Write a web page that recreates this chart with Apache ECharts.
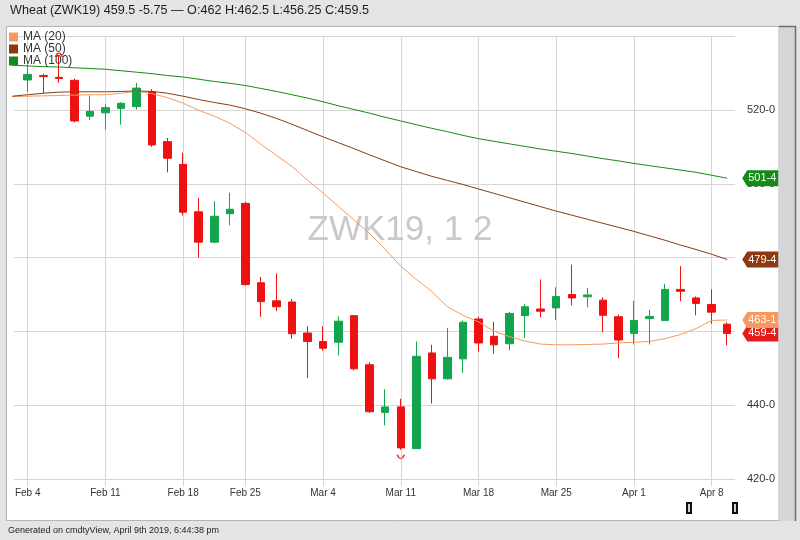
<!DOCTYPE html>
<html>
<head>
<meta charset="utf-8">
<script src="https://cdn.jsdelivr.net/npm/echarts@6/dist/echarts.min.js"></script>
<style>
  html, body { margin: 0; padding: 0; background: #e2e4e6; }
  #chart { width: 800px; height: 540px; }
</style>
</head>
<body>
<div id="chart"></div>
<script>
// Trading sessions shown on the axis (Feb 1 only carries the moving averages into view)
const dates = [
  'Feb 1', 'Feb 4', 'Feb 5', 'Feb 6', 'Feb 7', 'Feb 8',
  'Feb 11', 'Feb 12', 'Feb 13', 'Feb 14', 'Feb 15',
  'Feb 19', 'Feb 20', 'Feb 21', 'Feb 22',
  'Feb 25', 'Feb 26', 'Feb 27', 'Feb 28', 'Mar 1',
  'Mar 4', 'Mar 5', 'Mar 6', 'Mar 7', 'Mar 8',
  'Mar 11', 'Mar 12', 'Mar 13', 'Mar 14', 'Mar 15',
  'Mar 18', 'Mar 19', 'Mar 20', 'Mar 21', 'Mar 22',
  'Mar 25', 'Mar 26', 'Mar 27', 'Mar 28', 'Mar 29',
  'Apr 1', 'Apr 2', 'Apr 3', 'Apr 4', 'Apr 5',
  'Apr 8', 'Apr 9'
];

// Daily OHLC for ZWK19, Feb 4 .. Apr 9 (cents per bushel)
const opens = [
  528.1, 529.3, 528.8, 528.0, 518.3,
  519.2, 520.4, 520.9, 524.9, 511.4,
  505.2, 492.4, 484.2, 491.9,
  494.7, 473.2, 468.3, 468.0, 459.6,
  457.3, 457.1, 464.3, 451.0, 438.1,
  439.6, 428.3, 454.2, 447.2, 452.6,
  463.4, 458.7, 456.7, 464.3, 466.1,
  466.4, 470.0, 469.4, 468.5, 464.0,
  459.5, 463.5, 463.0, 471.4, 469.1,
  467.3, 462
];
const highs = [
  532.3, 529.8, 534.6, 528.5, 523.9,
  521.5, 522.1, 527.3, 525.6, 512.4,
  508.4, 496.2, 495.3, 497.6,
  495.1, 474.8, 475.7, 468.8, 461.4,
  461.4, 464.1, 464.4, 451.7, 444.4,
  441.8, 457.3, 456.4, 461.0, 463.0,
  464.0, 462.6, 465.3, 467.5, 474.1,
  472.0, 478.1, 471.8, 469.3, 464.6,
  468.3, 465.9, 472.9, 477.7, 469.5,
  471.4, 462.5
];
const lows = [
  524.8, 524.5, 527.3, 516.6, 517.2,
  514.7, 516.0, 520.1, 510.0, 503.1,
  491.4, 480.0, 484.0, 488.8,
  472.5, 464.0, 465.5, 458.0, 447.4,
  454.8, 453.5, 449.5, 437.9, 434.6,
  428.0, 428.25, 440.5, 447.0, 448.8,
  454.6, 454.0, 454.9, 458.3, 463.9,
  463.1, 467.1, 466.6, 459.8, 452.8,
  456.5, 456.5, 462.9, 468.2, 464.4,
  462.1, 456.25
];
const closes = [
  529.6, 529.0, 528.5, 517.0, 519.6,
  520.6, 521.8, 525.9, 510.5, 506.9,
  492.3, 484.2, 491.2, 493.1,
  472.7, 468.1, 466.7, 459.4, 457.3,
  455.5, 462.8, 449.9, 438.3, 439.6,
  428.5, 453.3, 447.2, 453.0, 462.5,
  456.9, 456.4, 464.9, 466.7, 465.5,
  469.5, 469.1, 469.9, 464.4, 457.7,
  463.0, 464.1, 471.4, 470.9, 467.6,
  465.25, 459.5
];

// Moving averages, one value per entry in dates
const ma20 = [
  523.6, 523.7, 523.8, 523.9, 524.0, 524.1, 524.1, 524.5, 525.1, 524.4,
  523.3, 521.8, 519.9, 518.3, 516.4, 513.9, 510.7, 507.7, 504.7, 501.0,
  497.5, 493.8, 490.2, 486.5, 482.2, 477.7, 474.1, 470.8, 466.7, 464.4,
  462.6, 460.1, 458.6, 457.4, 456.6, 456.4, 456.4, 456.5, 456.6, 456.9,
  457.1, 457.3, 458.1, 459.2, 460.8, 463.0, 463.125
];
const ma50 = [
  523.7, 524.1, 524.5, 524.8, 524.9, 524.9, 524.9, 525.0, 525.1, 525.0,
  524.5, 523.7, 522.8, 522.0, 521.3, 520.3, 519.1, 517.7, 516.1, 514.4,
  512.7, 511.1, 509.5, 507.8, 506.2, 504.6, 503.3, 502.0, 500.9, 499.8,
  498.6, 497.4, 496.2, 495.0, 493.8, 492.6, 491.5, 490.4, 489.3, 488.2,
  487.1, 485.9, 484.7, 483.4, 482.2, 480.9, 479.5
];
const ma100 = [
  532.1, 531.9, 531.7, 531.6, 531.4, 531.2, 531.0, 530.6, 530.2, 529.8,
  529.3, 528.9, 528.3, 527.7, 527.2, 526.6, 525.8, 525.0, 524.1, 523.2,
  522.2, 521.1, 520.1, 519.1, 518.0, 517.0, 516.0, 515.0, 514.1, 513.1,
  512.2, 511.5, 510.8, 510.1, 509.4, 508.8, 508.2, 507.5, 506.8, 506.2,
  505.5, 504.9, 504.3, 503.7, 503.1, 502.3, 501.5
];

// Weekly axis ticks: session that carries the tick, and the week it is named after
const tickSessions = ['Feb 4', 'Feb 11', 'Feb 19', 'Feb 25', 'Mar 4', 'Mar 11', 'Mar 18', 'Mar 25', 'Apr 1', 'Apr 8'];
const tickLabels   = ['Feb 4', 'Feb 11', 'Feb 18', 'Feb 25', 'Mar 4', 'Mar 11', 'Mar 18', 'Mar 25', 'Apr 1', 'Apr 8'];

const priceMin = 420, priceMax = 540, priceStep = 20;

const UP = '#13a54d', DOWN = '#ee1111';
const C20 = '#f6995f', C50 = '#8b3a10', C100 = '#168a16';
const FONT = '"Liberation Sans", Arial, Helvetica, sans-serif';

// Grain quotes in eighths: 463.125 -> "463-1"
function eighths(v) {
  const whole = Math.floor(v + 1e-9);
  return whole + '-' + Math.round((v - whole) * 8);
}

const candles = ['-'].concat(opens.map((o, i) => [o, closes[i], lows[i], highs[i]]));
const last = opens.length - 1;
const lastDate = dates[dates.length - 1];
const change = closes[last] - closes[last - 1];
const headline = 'Wheat (ZWK19) ' + closes[last] + ' ' + change.toFixed(2) +
  ' \u2014 O:' + opens[last] + ' H:' + highs[last] + ' L:' + lows[last] + ' C:' + closes[last];

const isTick = (idx, name) => tickSessions.indexOf(name) >= 0;

// Left-pointing price tag drawn at the right end of a series
const TAG = 'path://M0,8 L5,0 L36,0 L36,16 L5,16 Z';
function priceTag(value, color) {
  return {
    symbol: TAG,
    symbolSize: [36, 16],
    symbolKeepAspect: false,
    symbolOffset: [33, 0],
    silent: true,
    animation: false,
    label: {
      show: true, position: 'inside', color: '#fff', fontSize: 11,
      fontFamily: FONT, offset: [2, 0],
      formatter: (p) => eighths(p.value)
    },
    itemStyle: { color: color },
    data: [{ coord: [lastDate, value], value: value }]
  };
}

// Session extremes: a small cap over the highest high and a cup under the lowest low
const hiIdx = highs.indexOf(Math.max.apply(null, highs));
const loIdx = lows.indexOf(Math.min.apply(null, lows));

const candleTag = priceTag(closes[last], '#e51c1c');
candleTag.data = candleTag.data.concat([
  {
    coord: [dates[hiIdx + 1], highs[hiIdx]], value: highs[hiIdx],
    symbol: 'path://M0,5 Q5,-1 10,5', symbolSize: [7, 4], symbolOffset: [0, -1],
    itemStyle: { color: 'rgba(0,0,0,0)', borderColor: DOWN, borderWidth: 1.2 },
    label: { show: false }
  },
  {
    coord: [dates[loIdx + 1], lows[loIdx]], value: lows[loIdx],
    symbol: 'path://M0,0 Q5,6 10,0', symbolSize: [7, 4], symbolOffset: [0, 7],
    itemStyle: { color: 'rgba(0,0,0,0)', borderColor: DOWN, borderWidth: 1.2 },
    label: { show: false }
  }
]);

const chart = echarts.init(document.getElementById('chart'), null, { renderer: 'canvas' });

const option = {
  animation: false,
  backgroundColor: 'transparent',
  textStyle: { fontFamily: FONT },
  title: {
    text: headline, left: 10, top: 4, padding: 0,
    textStyle: { fontSize: 12.6, fontWeight: 'normal', color: '#1e1e1e', fontFamily: FONT }
  },
  legend: {
    orient: 'vertical', left: 9, top: 31, padding: 0,
    icon: 'rect', itemWidth: 9, itemHeight: 9, itemGap: 0,
    data: ['MA (20)', 'MA (50)', 'MA (100)'],
    textStyle: { fontSize: 12, color: '#333', lineHeight: 9, fontFamily: FONT },
    selectedMode: false
  },
  grid: [
    { left: 4.4, right: 65, top: 36, bottom: 60.7 },
    { left: 14, right: 65, top: 36, bottom: 60.7 }
  ],
  xAxis: [
    {
      type: 'category', gridIndex: 0, data: dates, boundaryGap: true,
      axisLine: { show: false },
      axisTick: { show: true, alignWithLabel: true, interval: isTick, length: 7, lineStyle: { color: '#d6d6d6' } },
      axisLabel: {
        interval: isTick, fontSize: 10, color: '#333', margin: 9, fontFamily: FONT,
        formatter: (name) => tickLabels[tickSessions.indexOf(name)]
      },
      splitLine: { show: true, alignWithLabel: true, interval: isTick, lineStyle: { color: '#d6d6d6', width: 1 } }
    },
    { type: 'value', gridIndex: 1, min: 0, max: 1, show: false }
  ],
  yAxis: [
    { type: 'value', gridIndex: 0, min: priceMin, max: priceMax, show: false },
    {
      type: 'value', gridIndex: 1, position: 'right',
      min: priceMin, max: priceMax, interval: priceStep,
      axisLine: { show: false }, axisTick: { show: false },
      splitLine: { show: true, lineStyle: { color: '#d6d6d6', width: 1 } },
      axisLabel: {
        margin: 12, fontSize: 11, color: '#333', fontFamily: FONT,
        formatter: (v) => (v >= priceMax ? '' : v + '-0')
      }
    }
  ],
  series: [
    {
      name: 'ZWK19', type: 'candlestick', xAxisIndex: 0, yAxisIndex: 0,
      data: candles, barWidth: 8, z: 2,
      itemStyle: { color: UP, color0: DOWN, borderColor: UP, borderColor0: DOWN, borderWidth: 1 },
      markPoint: candleTag
    },
    {
      name: 'MA (20)', type: 'line', xAxisIndex: 0, yAxisIndex: 0, data: ma20,
      symbol: 'none', smooth: false, z: 3,
      lineStyle: { color: C20, width: 1 }, itemStyle: { color: C20 },
      markPoint: priceTag(ma20[ma20.length - 1], C20)
    },
    {
      name: 'MA (50)', type: 'line', xAxisIndex: 0, yAxisIndex: 0, data: ma50,
      symbol: 'none', smooth: false, z: 3,
      lineStyle: { color: C50, width: 1 }, itemStyle: { color: C50 },
      markPoint: priceTag(ma50[ma50.length - 1], C50)
    },
    {
      name: 'MA (100)', type: 'line', xAxisIndex: 0, yAxisIndex: 0, data: ma100,
      symbol: 'none', smooth: false, z: 3,
      lineStyle: { color: C100, width: 1 }, itemStyle: { color: C100 },
      markPoint: priceTag(ma100[ma100.length - 1], C100)
    }
  ],
  graphic: [
    // chart panel and the scroll strip on its right
    { type: 'rect', z: -10, silent: true,
      shape: { x: 6.5, y: 26.5, width: 772.5, height: 494 },
      style: { fill: '#ffffff', stroke: '#b2b4b6', lineWidth: 1 } },
    { type: 'rect', z: -10, silent: true,
      shape: { x: 779, y: 26.5, width: 16.5, height: 494.5 },
      style: { fill: '#d3d5d7' } },
    { type: 'polyline', z: -9, silent: true,
      shape: { points: [[779, 26.5], [795.5, 26.5], [795.5, 521]] },
      style: { stroke: '#6c6c6c', lineWidth: 1.5, fill: null } },
    // symbol watermark
    { type: 'text', z: 1, silent: true, x: 400, y: 230,
      style: { text: 'ZWK19, 1 2', align: 'center', verticalAlign: 'middle',
               fontSize: 35, fontFamily: FONT, fill: '#c9c9c9' } },
    // range handles of the navigator
    { type: 'rect', silent: true, shape: { x: 686, y: 502, width: 6, height: 12 }, style: { fill: '#111' } },
    { type: 'rect', silent: true, shape: { x: 688, y: 504, width: 2, height: 8 }, style: { fill: '#cfcfcf' } },
    { type: 'rect', silent: true, shape: { x: 732, y: 502, width: 6, height: 12 }, style: { fill: '#111' } },
    { type: 'rect', silent: true, shape: { x: 734, y: 504, width: 2, height: 8 }, style: { fill: '#cfcfcf' } },
    // footer
    { type: 'text', silent: true, x: 8, y: 531,
      style: { text: 'Generated on cmdtyView, April 9th 2019, 6:44:38 pm', verticalAlign: 'middle',
               fontSize: 9, fontFamily: FONT, fill: '#222' } }
  ]
};

chart.setOption(option);
</script>
</body>
</html>
